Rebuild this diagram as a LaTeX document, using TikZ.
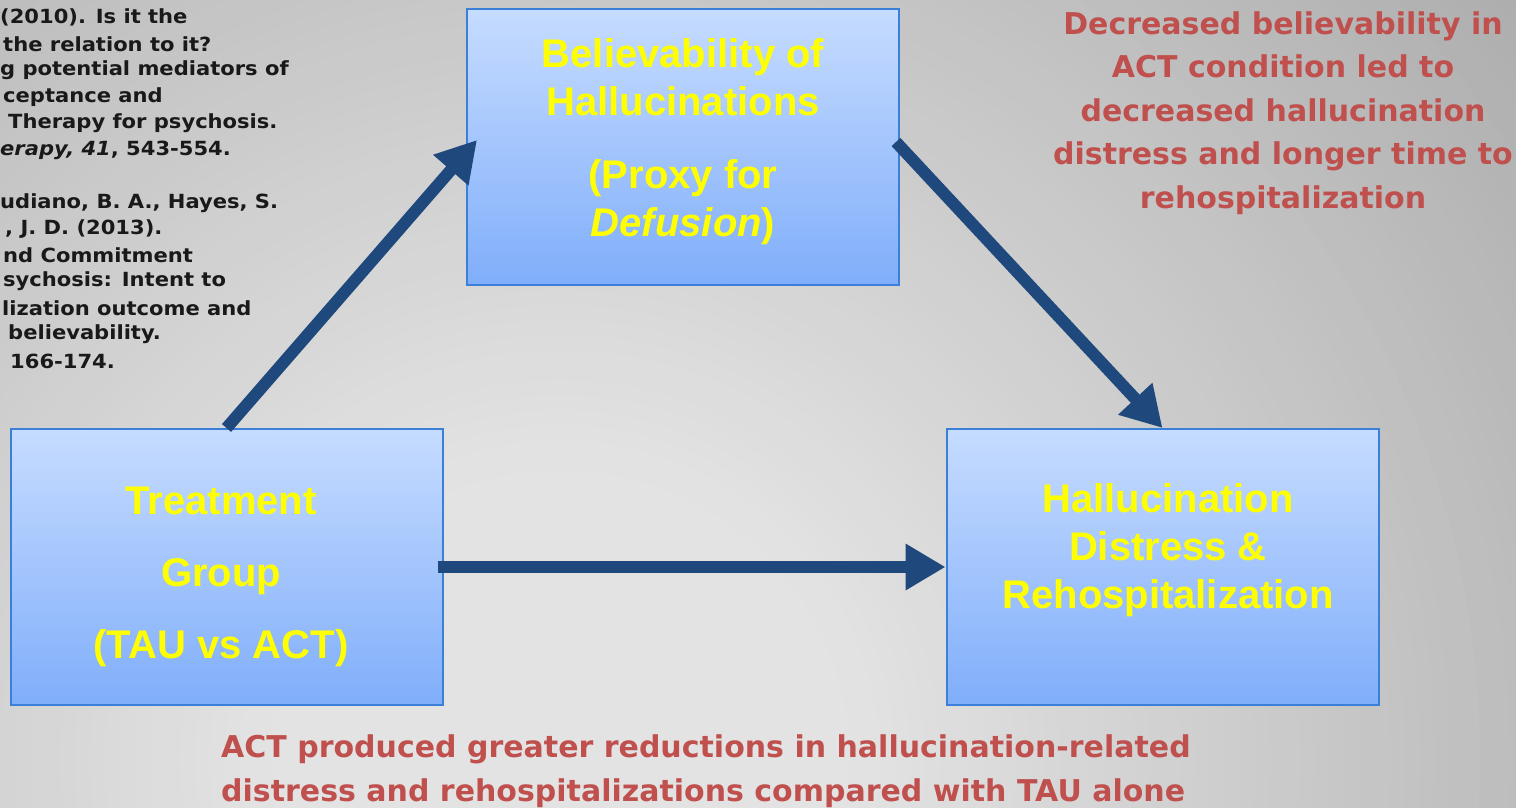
\documentclass[tikz,border=0pt]{standalone}
\usepackage{fontspec}
\setmainfont{Liberation Sans}
\newfontfamily\refont[FakeStretch=1.08]{DejaVu Sans}
\newfontfamily\redfont{DejaVu Sans}
\usetikzlibrary{arrows.meta}
\definecolor{boxtop}{HTML}{C6DCFF}
\definecolor{boxbot}{HTML}{80AEFA}
\definecolor{boxline}{HTML}{3A80D8}
\definecolor{arrowblue}{HTML}{1F497D}
\definecolor{redtext}{HTML}{C0504D}
\definecolor{yel}{HTML}{FFFF00}
\tikzset{
  bluebox/.style={draw=boxline, line width=2pt, top color=boxtop, bottom color=boxbot,
    minimum width=432pt, minimum height=276pt, inner sep=0pt},
  boxtext/.style={text=yel, align=center, font=\fontsize{40}{48}\selectfont\bfseries, inner sep=0pt},
  redlabel/.style={text=redtext, font=\redfont\fontsize{30}{43.5}\selectfont\bfseries, inner sep=0pt},
  refline/.style={anchor=west, inner sep=0pt, text=black!90, font=\refont\fontsize{19.5}{26}\selectfont\bfseries},
  bigarrow/.style={draw=arrowblue, line width=12pt, -{Triangle[length=40pt,width=44pt]}}
}
\begin{document}
\begin{tikzpicture}[x=1pt,y=-1pt]
\useasboundingbox (0,0) rectangle (1516,808);
\begin{scope}
\clip (0,0) rectangle (1516,808);
\foreach \r in {1400,1385,...,280} {
  \pgfmathsetmacro{\fr}{(\r-280)/1120}
  \pgfmathsetmacro{\gv}{(228-64*\fr)/255}
  \definecolor{bgring}{gray}{\gv}
  \fill[bgring] (560,760) circle[radius=\r];
}
\end{scope}

% reference text (clipped at left)
\node[refline] (r1) at (0,17) {(2010). Is it the};
\node[refline] (r2) at (3,44) {the relation to it?};
\node[refline] (r3) at (0,70) {g potential mediators of};
\node[refline] (r4) at (3,97) {ceptance and};
\node[refline] (r5) at (8,123) {Therapy for psychosis.};
\node[refline] (r6) at (0,150) {\itshape erapy, 41\upshape, 543-554.};
\node[refline] (r7) at (0,203) {udiano, B. A., Hayes, S.};
\node[refline] (r8) at (5,229) {, J. D. (2013).};
\node[refline] (r9) at (3,255) {nd Commitment};
\node[refline] (r10) at (3,281) {sychosis: Intent to};
\node[refline] (r11) at (2,308) {lization outcome and};
\node[refline] (r12) at (8,334) {believability.};
\node[refline] (r13) at (10,361) {166-174.};

% boxes
\node[bluebox] (b1) at (683,147) {};
\node[bluebox] (b2) at (226.5,567) {};
\node[bluebox] (b3) at (1162.5,567) {};

\node[boxtext] (t1) at (683,142) {Believability of\\Hallucinations\\[25pt](Proxy for\\\textit{Defusion})};
\node[boxtext] (t2) at (221,577) {Treatment\\[24pt]Group\\[24pt](TAU vs ACT)};
\node[boxtext] (t3) at (1168,550) {Hallucination\\Distress \&\\Rehospitalization};

% arrows
\draw[bigarrow] (b2.north) -- ([xshift=11pt,yshift=7pt]b1.west);
\draw[bigarrow] ([xshift=-4pt,yshift=5pt]b1.east) -- (b3.north);
\draw[bigarrow] ([xshift=-6pt]b2.east) -- (b3.west);

% red annotations
\node[redlabel, align=center] (n1) at (1283,113) {Decreased believability in\\ACT condition led to\\decreased hallucination\\distress and longer time to\\rehospitalization};
\node[redlabel, align=left, anchor=west] (n2) at (221,771) {ACT produced greater reductions in hallucination-related\\distress and rehospitalizations compared with TAU alone};
\end{tikzpicture}
\end{document}
